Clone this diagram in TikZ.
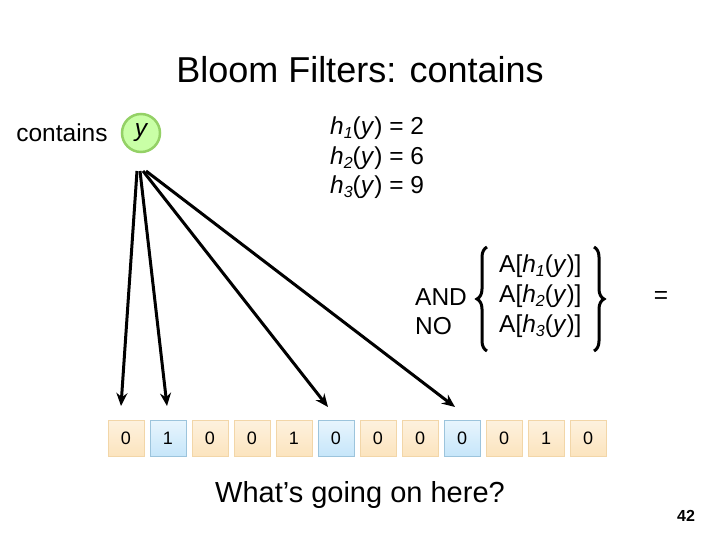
\documentclass[tikz,border=0pt]{standalone}
\usepackage{fontspec}
\setmainfont{Liberation Sans}
\usetikzlibrary{decorations.pathreplacing,arrows.meta}
\definecolor{obg}{HTML}{FCE4BE}
\definecolor{obd}{HTML}{F2D6A8}
\definecolor{bbg}{HTML}{C6E6FA}
\definecolor{bbd}{HTML}{9CC4DC}
\newcommand{\sub}[1]{\raisebox{-4pt}{\fontsize{16}{18}\selectfont\itshape #1}}
\begin{document}
\begin{tikzpicture}[x=1pt,y=-1pt,
  cell/.style={draw=obd,top color=obg!50,bottom color=obg,minimum width=36pt,minimum height=36pt,inner sep=0pt,font=\fontsize{18}{20}\selectfont},
  bcell/.style={cell,draw=bbd,top color=bbg!40,bottom color=bbg},
  arr/.style={line width=3pt,-{Stealth[length=13pt,width=11pt]}},
  txt/.style={font=\fontsize{24.5}{29}\selectfont,inner sep=0pt},
  brc/.style={decorate,decoration={brace,amplitude=10pt},line width=3pt}]
\useasboundingbox (0,0) rectangle (720,540);
\node[font=\fontsize{36}{42}\selectfont] (title) at (360,70) {Bloom Filters: contains};
\node[txt] (contains) at (62,133) {contains};
\node[circle,draw=green!40!olive!60,line width=2.5pt,fill=green!60!yellow!35,minimum size=38pt,inner sep=0pt,font=\fontsize{24.5}{29}\selectfont\itshape] (y) at (141,133) {\raisebox{-5pt}{y}};
\node[txt,anchor=west] (h1) at (330,128) {\textit{h}\sub{1}(\textit{y}) = 2};
\node[txt,anchor=west] (h2) at (330,158) {\textit{h}\sub{2}(\textit{y}) = 6};
\node[txt,anchor=west] (h3) at (330,187) {\textit{h}\sub{3}(\textit{y}) = 9};
\foreach \i/\v/\s in {0/0/cell,1/1/bcell,2/0/cell,3/0/cell,4/1/cell,5/0/bcell,6/0/cell,7/0/cell,8/0/bcell,9/0/cell,10/1/cell,11/0/cell}
  \node[\s] (c\i) at ({126+42*\i},438) {\v};
\coordinate (s0) at (137,171);
\coordinate (s1) at (140,171);
\coordinate (s2) at (143,171);
\coordinate (s3) at (146,171);
\coordinate (e0) at (121,406);
\coordinate (e1) at (167,406);
\coordinate (e2) at (328,407);
\coordinate (e3) at (455,407);
\draw[arr] (s0) -- (e0);
\draw[arr] (s1) -- (e1);
\draw[arr] (s2) -- (e2);
\draw[arr] (s3) -- (e3);
\node[txt,anchor=west] (and) at (415,297) {AND};
\node[txt,anchor=west] (no) at (415,326) {NO};
\node[txt,anchor=west] (a1) at (499,266) {A[\textit{h}\sub{1}(\textit{y})]};
\node[txt,anchor=west] (a2) at (499,296) {A[\textit{h}\sub{2}(\textit{y})]};
\node[txt,anchor=west] (a3) at (499,326) {A[\textit{h}\sub{3}(\textit{y})]};
\coordinate (lb1) at (487,351);
\coordinate (lb2) at (487,247);
\coordinate (rb1) at (594,247);
\coordinate (rb2) at (594,351);
\draw[brc] (lb1) -- (lb2);
\draw[brc] (rb1) -- (rb2);
\node[txt] (eq) at (661,297) {=};
\node[font=\fontsize{29}{34}\selectfont] (q) at (360,495) {What’s going on here?};
\node[font=\fontsize{16}{18}\selectfont\bfseries] (pg) at (686,516) {42};
\end{tikzpicture}
\end{document}
